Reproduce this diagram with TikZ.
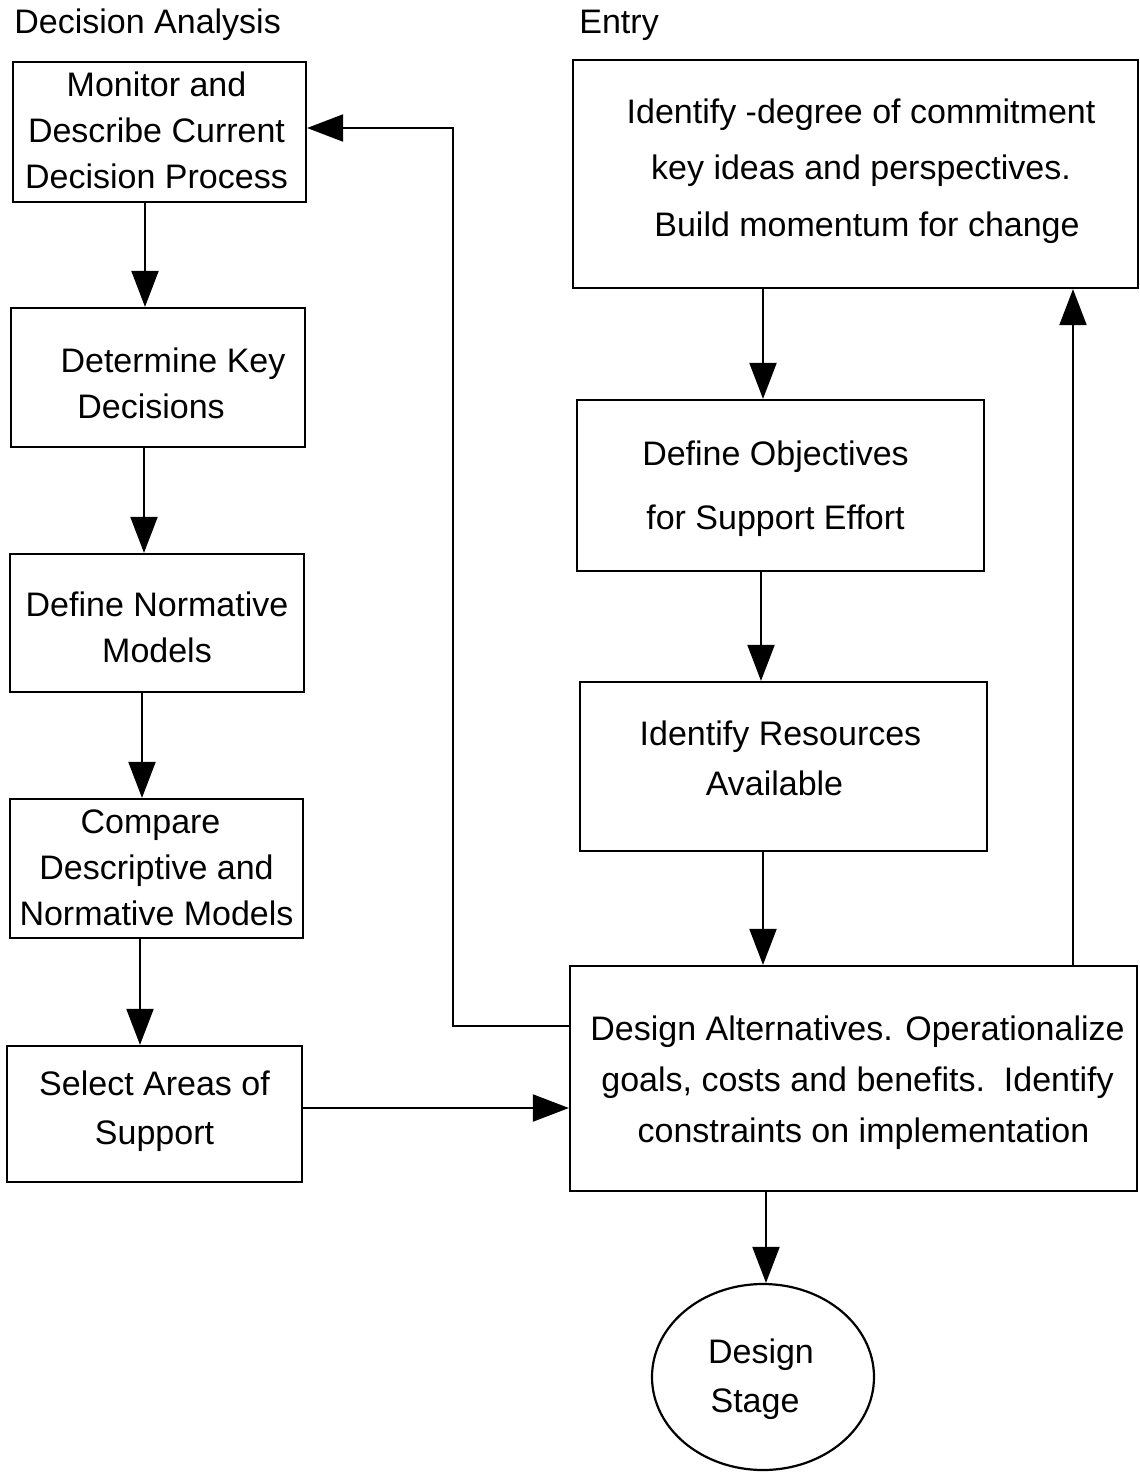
\documentclass[tikz,border=0pt]{standalone}
\usepackage{fontspec}
\setmainfont{Liberation Sans}
\usetikzlibrary{arrows.meta,shapes.geometric}
\begin{document}
\begin{tikzpicture}[x=0.5pt,y=-0.5pt,
  box/.style={draw, line width=1.1pt, rectangle, inner sep=0pt},
  oval/.style={draw, line width=1.1pt, ellipse, inner sep=0pt},
  txt/.style={inner sep=0pt, align=center, font=\fontsize{17}{23}\selectfont},
  head/.style={anchor=west, inner sep=0pt, font=\fontsize{17}{20}\selectfont},
  arr/.style={draw, line width=1pt, -{Triangle[length=18pt,width=13.5pt]}}]
\useasboundingbox (0,0) rectangle (1140,1472);
% headings
\node[head] (hda) at (14,25) {Decision Analysis};
\node[head] (hen) at (579,25) {Entry};
% left column boxes
\node[box, minimum width=146.5pt, minimum height=70pt] (mon) at (159.5,132) {};
\node[box, minimum width=147pt, minimum height=69.5pt] (det) at (158,377.5) {};
\node[box, minimum width=147pt, minimum height=69pt] (nor) at (157,623) {};
\node[box, minimum width=146.5pt, minimum height=69.5pt] (cmp) at (156.5,868.5) {};
\node[box, minimum width=147.5pt, minimum height=68pt] (sel) at (154.5,1114) {};
% right column boxes
\node[box, minimum width=282.5pt, minimum height=114pt] (top) at (855.5,174) {};
\node[box, minimum width=203.5pt, minimum height=85.5pt] (obj) at (780.5,485.5) {};
\node[box, minimum width=203.5pt, minimum height=84.5pt] (res) at (783.5,766.5) {};
\node[box, minimum width=283.5pt, minimum height=112.5pt] (alt) at (853.5,1078.5) {};
\node[oval, minimum width=111pt, minimum height=93pt] (stage) at (763,1377) {};
% texts
\node[txt] (monT) at (156.5,130) {Monitor and\\Describe Current\\Decision Process};
\node[txt] (detT) at (159,383.5) {\hspace*{14pt}Determine Key\\Decisions\hspace*{8pt}};
\node[txt] (norT) at (157,627) {Define Normative\\Models};
\node[txt] (cmpT) at (156.5,867.5) {Compare\hspace*{6pt}\\Descriptive and\\Normative Models};
\node[txt, font=\fontsize{17}{24.5}\selectfont] (selT) at (154.5,1111) {Select Areas of\\Support};
\node[txt, font=\fontsize{17}{28.3}\selectfont] (topT) at (861,171)
  {Identify -degree of commitment\\key ideas and perspectives.\\\hspace*{6pt}Build momentum for change};
\node[txt, font=\fontsize{17}{32}\selectfont] (objT) at (775.5,488.5)
  {Define Objectives\\for Support Effort};
\node[txt, font=\fontsize{17}{25}\selectfont] (resT) at (780.5,758.5)
  {Identify Resources\\Available\hspace*{6pt}};
\node[txt, font=\fontsize{17}{25.5}\selectfont] (altT) at (857.5,1082.5)
  {Design Alternatives. Operationalize\\goals, costs and benefits.\ \ Identify\\\hspace*{6pt}constraints on implementation};
\node[txt, font=\fontsize{17}{24.5}\selectfont] (stageT) at (761,1379) {Design\\Stage\hspace*{6pt}};
% helper coordinates
\coordinate (c1) at (145,0);
\coordinate (c2) at (144,0);
\coordinate (c3) at (142,0);
\coordinate (c4) at (140,0);
\coordinate (c5) at (763,0);
\coordinate (c6) at (761,0);
\coordinate (c7) at (763,0);
\coordinate (c8) at (766,0);
\coordinate (c9) at (1073,0);
\coordinate (ys) at (0,1108);
\coordinate (fbA) at (453,1026);
\coordinate (fbB) at (453,128);
% connectors
\draw[arr] (mon.south -| c1) -- (det.north -| c1);
\draw[arr] (det.south -| c2) -- (nor.north -| c2);
\draw[arr] (nor.south -| c3) -- (cmp.north -| c3);
\draw[arr] (cmp.south -| c4) -- (sel.north -| c4);
\draw[arr] (sel.east |- ys) -- (alt.west |- ys);
\draw[arr] (alt.west |- fbA) -- (fbA) -- (fbB) -- (mon.east |- fbB);
\draw[arr] (top.south -| c5) -- (obj.north -| c5);
\draw[arr] (obj.south -| c6) -- (res.north -| c6);
\draw[arr] (res.south -| c7) -- (alt.north -| c7);
\draw[arr] (alt.north -| c9) -- (top.south -| c9);
\draw[arr] (alt.south -| c8) -- (stage.north -| c8);
\end{tikzpicture}
\end{document}
